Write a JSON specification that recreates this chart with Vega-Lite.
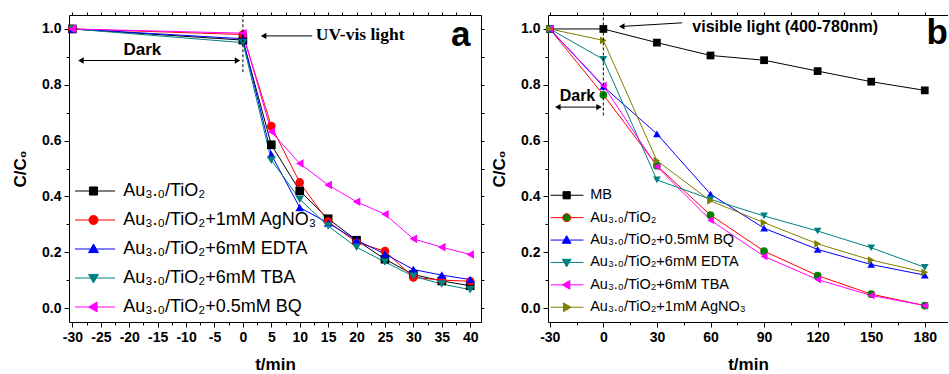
{
  "$schema": "https://vega.github.io/schema/vega-lite/v6.json",
  "background": "white",
  "padding": {"left": 11, "top": 11, "right": 0, "bottom": 0},
  "spacing": 67,
  "bounds": "flush",
  "config": {
    "view": {"stroke": null},
    "axis": {
      "domainColor": "black", "tickColor": "black", "labelColor": "black", "titleColor": "black",
      "labelFont": "Liberation Sans", "labelFontWeight": "bold", "labelFontSize": 14,
      "titleFont": "Liberation Sans", "titleFontWeight": "bold", "titleFontSize": 17,
      "grid": false, "tickWidth": 1, "domainWidth": 1, "labelPadding": 3,
      "labelFlush": false, "labelOverlap": false, "labelBound": false
    },
    "legend": {"labelFont": "Liberation Sans", "labelColor": "black", "padding": 0}
  },
  "datasets": {
    "a": [
      {"s": "Au₃.₀/TiO₂", "t": -30, "c": 1.0}, {"s": "Au₃.₀/TiO₂", "t": 0, "c": 0.96}, {"s": "Au₃.₀/TiO₂", "t": 5, "c": 0.585}, {"s": "Au₃.₀/TiO₂", "t": 10, "c": 0.42}, {"s": "Au₃.₀/TiO₂", "t": 15, "c": 0.32}, {"s": "Au₃.₀/TiO₂", "t": 20, "c": 0.243}, {"s": "Au₃.₀/TiO₂", "t": 25, "c": 0.175}, {"s": "Au₃.₀/TiO₂", "t": 30, "c": 0.12}, {"s": "Au₃.₀/TiO₂", "t": 35, "c": 0.097}, {"s": "Au₃.₀/TiO₂", "t": 40, "c": 0.08},
      {"s": "Au₃.₀/TiO₂+1mM AgNO₃", "t": -30, "c": 1.0}, {"s": "Au₃.₀/TiO₂+1mM AgNO₃", "t": 0, "c": 0.98}, {"s": "Au₃.₀/TiO₂+1mM AgNO₃", "t": 5, "c": 0.652}, {"s": "Au₃.₀/TiO₂+1mM AgNO₃", "t": 10, "c": 0.45}, {"s": "Au₃.₀/TiO₂+1mM AgNO₃", "t": 15, "c": 0.31}, {"s": "Au₃.₀/TiO₂+1mM AgNO₃", "t": 20, "c": 0.235}, {"s": "Au₃.₀/TiO₂+1mM AgNO₃", "t": 25, "c": 0.204}, {"s": "Au₃.₀/TiO₂+1mM AgNO₃", "t": 30, "c": 0.11}, {"s": "Au₃.₀/TiO₂+1mM AgNO₃", "t": 35, "c": 0.1}, {"s": "Au₃.₀/TiO₂+1mM AgNO₃", "t": 40, "c": 0.096},
      {"s": "Au₃.₀/TiO₂+6mM EDTA", "t": -30, "c": 1.0}, {"s": "Au₃.₀/TiO₂+6mM EDTA", "t": 0, "c": 0.965}, {"s": "Au₃.₀/TiO₂+6mM EDTA", "t": 5, "c": 0.55}, {"s": "Au₃.₀/TiO₂+6mM EDTA", "t": 10, "c": 0.36}, {"s": "Au₃.₀/TiO₂+6mM EDTA", "t": 15, "c": 0.305}, {"s": "Au₃.₀/TiO₂+6mM EDTA", "t": 20, "c": 0.243}, {"s": "Au₃.₀/TiO₂+6mM EDTA", "t": 25, "c": 0.194}, {"s": "Au₃.₀/TiO₂+6mM EDTA", "t": 30, "c": 0.138}, {"s": "Au₃.₀/TiO₂+6mM EDTA", "t": 35, "c": 0.118}, {"s": "Au₃.₀/TiO₂+6mM EDTA", "t": 40, "c": 0.102},
      {"s": "Au₃.₀/TiO₂+6mM TBA", "t": -30, "c": 1.0}, {"s": "Au₃.₀/TiO₂+6mM TBA", "t": 0, "c": 0.951}, {"s": "Au₃.₀/TiO₂+6mM TBA", "t": 5, "c": 0.53}, {"s": "Au₃.₀/TiO₂+6mM TBA", "t": 10, "c": 0.39}, {"s": "Au₃.₀/TiO₂+6mM TBA", "t": 15, "c": 0.294}, {"s": "Au₃.₀/TiO₂+6mM TBA", "t": 20, "c": 0.218}, {"s": "Au₃.₀/TiO₂+6mM TBA", "t": 25, "c": 0.165}, {"s": "Au₃.₀/TiO₂+6mM TBA", "t": 30, "c": 0.114}, {"s": "Au₃.₀/TiO₂+6mM TBA", "t": 35, "c": 0.086}, {"s": "Au₃.₀/TiO₂+6mM TBA", "t": 40, "c": 0.066},
      {"s": "Au₃.₀/TiO₂+0.5mM BQ", "t": -30, "c": 1.0}, {"s": "Au₃.₀/TiO₂+0.5mM BQ", "t": 0, "c": 0.985}, {"s": "Au₃.₀/TiO₂+0.5mM BQ", "t": 5, "c": 0.632}, {"s": "Au₃.₀/TiO₂+0.5mM BQ", "t": 10, "c": 0.518}, {"s": "Au₃.₀/TiO₂+0.5mM BQ", "t": 15, "c": 0.441}, {"s": "Au₃.₀/TiO₂+0.5mM BQ", "t": 20, "c": 0.381}, {"s": "Au₃.₀/TiO₂+0.5mM BQ", "t": 25, "c": 0.336}, {"s": "Au₃.₀/TiO₂+0.5mM BQ", "t": 30, "c": 0.248}, {"s": "Au₃.₀/TiO₂+0.5mM BQ", "t": 35, "c": 0.218}, {"s": "Au₃.₀/TiO₂+0.5mM BQ", "t": 40, "c": 0.192}
    ],
    "b": [
      {"s": "MB", "t": -30, "c": 1.0}, {"s": "MB", "t": 0, "c": 1.0}, {"s": "MB", "t": 30, "c": 0.951}, {"s": "MB", "t": 60, "c": 0.905}, {"s": "MB", "t": 90, "c": 0.888}, {"s": "MB", "t": 120, "c": 0.849}, {"s": "MB", "t": 150, "c": 0.811}, {"s": "MB", "t": 180, "c": 0.78},
      {"s": "Au₃.₀/TiO₂", "t": -30, "c": 1.0}, {"s": "Au₃.₀/TiO₂", "t": 0, "c": 0.764}, {"s": "Au₃.₀/TiO₂", "t": 30, "c": 0.51}, {"s": "Au₃.₀/TiO₂", "t": 60, "c": 0.333}, {"s": "Au₃.₀/TiO₂", "t": 90, "c": 0.204}, {"s": "Au₃.₀/TiO₂", "t": 120, "c": 0.116}, {"s": "Au₃.₀/TiO₂", "t": 150, "c": 0.05}, {"s": "Au₃.₀/TiO₂", "t": 180, "c": 0.009},
      {"s": "Au₃.₀/TiO₂+0.5mM BQ", "t": -30, "c": 1.0}, {"s": "Au₃.₀/TiO₂+0.5mM BQ", "t": 0, "c": 0.794}, {"s": "Au₃.₀/TiO₂+0.5mM BQ", "t": 30, "c": 0.624}, {"s": "Au₃.₀/TiO₂+0.5mM BQ", "t": 60, "c": 0.408}, {"s": "Au₃.₀/TiO₂+0.5mM BQ", "t": 90, "c": 0.286}, {"s": "Au₃.₀/TiO₂+0.5mM BQ", "t": 120, "c": 0.21}, {"s": "Au₃.₀/TiO₂+0.5mM BQ", "t": 150, "c": 0.156}, {"s": "Au₃.₀/TiO₂+0.5mM BQ", "t": 180, "c": 0.118},
      {"s": "Au₃.₀/TiO₂+6mM EDTA", "t": -30, "c": 1.0}, {"s": "Au₃.₀/TiO₂+6mM EDTA", "t": 0, "c": 0.891}, {"s": "Au₃.₀/TiO₂+6mM EDTA", "t": 30, "c": 0.459}, {"s": "Au₃.₀/TiO₂+6mM EDTA", "t": 60, "c": 0.39}, {"s": "Au₃.₀/TiO₂+6mM EDTA", "t": 90, "c": 0.33}, {"s": "Au₃.₀/TiO₂+6mM EDTA", "t": 120, "c": 0.276}, {"s": "Au₃.₀/TiO₂+6mM EDTA", "t": 150, "c": 0.216}, {"s": "Au₃.₀/TiO₂+6mM EDTA", "t": 180, "c": 0.146},
      {"s": "Au₃.₀/TiO₂+6mM TBA", "t": -30, "c": 1.0}, {"s": "Au₃.₀/TiO₂+6mM TBA", "t": 0, "c": 0.797}, {"s": "Au₃.₀/TiO₂+6mM TBA", "t": 30, "c": 0.507}, {"s": "Au₃.₀/TiO₂+6mM TBA", "t": 60, "c": 0.315}, {"s": "Au₃.₀/TiO₂+6mM TBA", "t": 90, "c": 0.185}, {"s": "Au₃.₀/TiO₂+6mM TBA", "t": 120, "c": 0.102}, {"s": "Au₃.₀/TiO₂+6mM TBA", "t": 150, "c": 0.045}, {"s": "Au₃.₀/TiO₂+6mM TBA", "t": 180, "c": 0.009},
      {"s": "Au₃.₀/TiO₂+1mM AgNO₃", "t": -30, "c": 1.0}, {"s": "Au₃.₀/TiO₂+1mM AgNO₃", "t": 0, "c": 0.959}, {"s": "Au₃.₀/TiO₂+1mM AgNO₃", "t": 30, "c": 0.528}, {"s": "Au₃.₀/TiO₂+1mM AgNO₃", "t": 60, "c": 0.384}, {"s": "Au₃.₀/TiO₂+1mM AgNO₃", "t": 90, "c": 0.306}, {"s": "Au₃.₀/TiO₂+1mM AgNO₃", "t": 120, "c": 0.23}, {"s": "Au₃.₀/TiO₂+1mM AgNO₃", "t": 150, "c": 0.172}, {"s": "Au₃.₀/TiO₂+1mM AgNO₃", "t": 180, "c": 0.128}
    ]
  },
  "resolve": {"scale": {"stroke": "independent", "fill": "independent", "shape": "independent"}},
  "hconcat": [
    {
      "width": 412,
      "height": 307,
      "resolve": {"axis": {"x": "independent", "y": "independent"}},
      "layer": [
        {
          "data": {"name": "a"},
          "mark": {"type": "line", "strokeWidth": 1},
          "encoding": {
            "x": {"field": "t", "type": "quantitative", "scale": {"domain": [-30.6, 41.9], "nice": false, "zero": false},
              "axis": {"orient": "bottom", "values": [-30,-25,-20,-15,-10,-5,0,5,10,15,20,25,30,35,40], "tickSize": 5, "labelExpr": "'' + datum.value", "title": "t/min", "titlePadding": 12}},
            "y": {"field": "c", "type": "quantitative", "scale": {"domain": [-0.05, 1.05], "nice": false, "zero": false},
              "axis": {"orient": "left", "values": [0, 0.2, 0.4, 0.6, 0.8, 1.0], "tickSize": 5, "labelExpr": "format(datum.value, '.1f')", "title": "C/C₀", "titlePadding": 12}},
            "stroke": {"field": "s", "type": "nominal",
              "scale": {"domain": ["Au₃.₀/TiO₂", "Au₃.₀/TiO₂+1mM AgNO₃", "Au₃.₀/TiO₂+6mM EDTA", "Au₃.₀/TiO₂+6mM TBA", "Au₃.₀/TiO₂+0.5mM BQ"], "range": ["#000000", "#ff0000", "#0000ff", "#008080", "#ff00ff"]},
              "legend": {"orient": "none", "legendX": 15.5, "legendY": 167, "title": null, "symbolSize": 81, "labelFontSize": 18, "labelOffset": 20.7, "rowPadding": 11, "labelLimit": 400,
                "encode": {"symbols": {"update": {
                  "shape": {"signal": "['M-4.1,0H-0.9M0.9,0H4.8M-0.9,-0.9H0.9V0.9H-0.9Z','M-4.1,0H-1M1,0H4.8M1,0A1,1,0,1,1,-1,0A1,1,0,1,1,1,0Z','M-4.1,0H-0.7M0.7,0H4.8M0,-1.1L1.1,0.8L-1.1,0.8Z','M-4.1,0H-0.7M0.7,0H4.8M0,1.1L1.1,-0.8L-1.1,-0.8Z','M-4.1,0H-1.1M0.8,0H4.8M-1.1,0L0.8,-1.1L0.8,1.1Z'][indexof(['Au₃.₀/TiO₂','Au₃.₀/TiO₂+1mM AgNO₃','Au₃.₀/TiO₂+6mM EDTA','Au₃.₀/TiO₂+6mM TBA','Au₃.₀/TiO₂+0.5mM BQ'], datum.value)]"},
                  "fill": {"signal": "['#000000','#ff0000','#0000ff','#008080','#ff00ff'][indexof(['Au₃.₀/TiO₂','Au₃.₀/TiO₂+1mM AgNO₃','Au₃.₀/TiO₂+6mM EDTA','Au₃.₀/TiO₂+6mM TBA','Au₃.₀/TiO₂+0.5mM BQ'], datum.value)]"},
                  "strokeWidth": {"value": 1},
                  "opacity": {"value": 1}
                }}}}}
          }
        },
        {
          "data": {"name": "a"},
          "mark": {"type": "point", "filled": true, "opacity": 1, "size": 75},
          "encoding": {
            "x": {"field": "t", "type": "quantitative", "scale": {"domain": [-30.6, 41.9], "nice": false, "zero": false},
              "axis": {"orient": "bottom", "values": [-27.5,-22.5,-17.5,-12.5,-7.5,-2.5,2.5,7.5,12.5,17.5,22.5,27.5,32.5,37.5], "tickSize": 3, "labels": false, "domain": false, "title": null}},
            "y": {"field": "c", "type": "quantitative", "scale": {"domain": [-0.05, 1.05], "nice": false, "zero": false},
              "axis": {"orient": "left", "values": [0.1, 0.3, 0.5, 0.7, 0.9], "tickSize": 3, "labels": false, "domain": false, "title": null}},
            "fill": {"field": "s", "type": "nominal", "legend": null,
              "scale": {"range": ["#000000", "#ff00ff", "#ff0000", "#0000ff", "#008080"]}},
            "shape": {"field": "s", "type": "nominal", "legend": null,
              "scale": {"range": ["square", "triangle-left", "circle", "triangle-up", "triangle-down"]}}
          }
        },
        {
          "data": {"values": [{"t": 0, "c": 0.845, "c2": 1.05}]},
          "mark": {"type": "rule", "strokeDash": [3, 2], "color": "black", "strokeWidth": 1},
          "encoding": {
            "x": {"field": "t", "type": "quantitative", "scale": {"domain": [-30.6, 41.9], "nice": false, "zero": false},
              "axis": {"orient": "top", "values": [-30,-27.5,-25,-22.5,-20,-17.5,-15,-12.5,-10,-7.5,-5,-2.5,0,2.5,5,7.5,10,12.5,15,17.5,20,22.5,25,27.5,30,32.5,35,37.5,40], "tickSize": 3, "labels": false, "title": null}},
            "y": {"field": "c", "type": "quantitative", "scale": {"domain": [-0.05, 1.05], "nice": false, "zero": false},
              "axis": {"orient": "right", "values": [0,0.1,0.2,0.3,0.4,0.5,0.6,0.7,0.8,0.9,1.0], "tickSize": 3, "labels": false, "title": null}},
            "y2": {"field": "c2"}
          }
        },
        {
          "data": {"values": [{"t": -28.5, "t2": -1, "c": 0.887}, {"t": 3.7, "t2": 12.2, "c": 0.975}]},
          "mark": {"type": "rule", "color": "black", "strokeWidth": 1},
          "encoding": {
            "x": {"field": "t", "type": "quantitative", "scale": {"domain": [-30.6, 41.9], "nice": false, "zero": false}, "axis": null},
            "x2": {"field": "t2"},
            "y": {"field": "c", "type": "quantitative", "scale": {"domain": [-0.05, 1.05], "nice": false, "zero": false}, "axis": null}
          }
        },
        {
          "data": {"values": [{"t": -28.5, "c": 0.887}, {"t": 3.65, "c": 0.975}]},
          "mark": {"type": "point", "shape": "triangle-left", "filled": true, "color": "black", "opacity": 1, "size": 40},
          "encoding": {
            "x": {"field": "t", "type": "quantitative", "scale": {"domain": [-30.6, 41.9], "nice": false, "zero": false}, "axis": null},
            "y": {"field": "c", "type": "quantitative", "scale": {"domain": [-0.05, 1.05], "nice": false, "zero": false}, "axis": null}
          }
        },
        {
          "data": {"values": [{"t": -0.95, "c": 0.887}]},
          "mark": {"type": "point", "shape": "triangle-right", "filled": true, "color": "black", "opacity": 1, "size": 40},
          "encoding": {
            "x": {"field": "t", "type": "quantitative", "scale": {"domain": [-30.6, 41.9], "nice": false, "zero": false}, "axis": null},
            "y": {"field": "c", "type": "quantitative", "scale": {"domain": [-0.05, 1.05], "nice": false, "zero": false}, "axis": null}
          }
        },
        {
          "data": {"values": [{"t": -17.7, "c": 0.923, "label": "Dark"}]},
          "mark": {"type": "text", "font": "Liberation Sans", "fontWeight": "bold", "fontSize": 17, "align": "center", "baseline": "middle", "color": "black"},
          "encoding": {
            "x": {"field": "t", "type": "quantitative", "scale": {"domain": [-30.6, 41.9], "nice": false, "zero": false}, "axis": null},
            "y": {"field": "c", "type": "quantitative", "scale": {"domain": [-0.05, 1.05], "nice": false, "zero": false}, "axis": null},
            "text": {"field": "label"}
          }
        },
        {
          "data": {"values": [{"t": 12.84, "c": 0.977, "label": "UV-vis light"}]},
          "mark": {"type": "text", "font": "Liberation Serif", "fontWeight": "bold", "fontSize": 17.5, "align": "left", "baseline": "middle", "color": "black"},
          "encoding": {
            "x": {"field": "t", "type": "quantitative", "scale": {"domain": [-30.6, 41.9], "nice": false, "zero": false}, "axis": null},
            "y": {"field": "c", "type": "quantitative", "scale": {"domain": [-0.05, 1.05], "nice": false, "zero": false}, "axis": null},
            "text": {"field": "label"}
          }
        },
        {
          "data": {"values": [{"t": 38.35, "c": 0.977, "label": "a"}]},
          "mark": {"type": "text", "font": "Liberation Sans", "fontWeight": "bold", "fontSize": 35, "align": "center", "baseline": "middle", "color": "black"},
          "encoding": {
            "x": {"field": "t", "type": "quantitative", "scale": {"domain": [-30.6, 41.9], "nice": false, "zero": false}, "axis": null},
            "y": {"field": "c", "type": "quantitative", "scale": {"domain": [-0.05, 1.05], "nice": false, "zero": false}, "axis": null},
            "text": {"field": "label"}
          }
        }
      ]
    },
    {
      "width": 400,
      "height": 307,
      "resolve": {"axis": {"x": "independent", "y": "independent"}},
      "layer": [
        {
          "data": {"name": "b"},
          "mark": {"type": "line", "strokeWidth": 1},
          "encoding": {
            "x": {"field": "t", "type": "quantitative", "scale": {"domain": [-31, 193], "nice": false, "zero": false},
              "axis": {"orient": "bottom", "values": [-30, 0, 30, 60, 90, 120, 150, 180], "tickSize": 5, "labelExpr": "'' + datum.value", "title": "t/min", "titlePadding": 12}},
            "y": {"field": "c", "type": "quantitative", "scale": {"domain": [-0.05, 1.05], "nice": false, "zero": false},
              "axis": {"orient": "left", "values": [0, 0.2, 0.4, 0.6, 0.8, 1.0], "tickSize": 5, "labelExpr": "format(datum.value, '.1f')", "title": "C/C₀", "titlePadding": 12}},
            "stroke": {"field": "s", "type": "nominal",
              "scale": {"domain": ["MB", "Au₃.₀/TiO₂", "Au₃.₀/TiO₂+0.5mM BQ", "Au₃.₀/TiO₂+6mM EDTA", "Au₃.₀/TiO₂+6mM TBA", "Au₃.₀/TiO₂+1mM AgNO₃"], "range": ["#000000", "#ff0000", "#0000ff", "#008080", "#ff00ff", "#808000"]},
              "legend": {"orient": "none", "legendX": 11.4, "legendY": 173, "title": null, "symbolSize": 64, "labelFontSize": 14.5, "labelOffset": 16.3, "rowPadding": 7.4, "labelLimit": 400,
                "encode": {"symbols": {"update": {
                  "shape": {"signal": "['M-4,0H-0.9M0.9,0H4.2M-0.9,-0.9H0.9V0.9H-0.9Z','M-4,0H-1M1,0H4.2M1,0A1,1,0,1,1,-1,0A1,1,0,1,1,1,0Z','M-4,0H-0.7M0.7,0H4.2M0,-1.1L1.1,0.8L-1.1,0.8Z','M-4,0H-0.7M0.7,0H4.2M0,1.1L1.1,-0.8L-1.1,-0.8Z','M-4,0H-1.1M0.8,0H4.2M-1.1,0L0.8,-1.1L0.8,1.1Z','M-4,0H-0.8M1.1,0H4.2M1.1,0L-0.8,-1.1L-0.8,1.1Z'][indexof(['MB','Au₃.₀/TiO₂','Au₃.₀/TiO₂+0.5mM BQ','Au₃.₀/TiO₂+6mM EDTA','Au₃.₀/TiO₂+6mM TBA','Au₃.₀/TiO₂+1mM AgNO₃'], datum.value)]"},
                  "fill": {"signal": "['#000000','#008000','#0000ff','#008080','#ff00ff','#808000'][indexof(['MB','Au₃.₀/TiO₂','Au₃.₀/TiO₂+0.5mM BQ','Au₃.₀/TiO₂+6mM EDTA','Au₃.₀/TiO₂+6mM TBA','Au₃.₀/TiO₂+1mM AgNO₃'], datum.value)]"},
                  "strokeWidth": {"value": 1},
                  "opacity": {"value": 1}
                }}}}}
          }
        },
        {
          "data": {"name": "b"},
          "mark": {"type": "point", "filled": true, "opacity": 1, "size": 60},
          "encoding": {
            "x": {"field": "t", "type": "quantitative", "scale": {"domain": [-31, 193], "nice": false, "zero": false},
              "axis": {"orient": "bottom", "values": [-15, 15, 45, 75, 105, 135, 165], "tickSize": 3, "labels": false, "domain": false, "title": null}},
            "y": {"field": "c", "type": "quantitative", "scale": {"domain": [-0.05, 1.05], "nice": false, "zero": false},
              "axis": {"orient": "left", "values": [0.1, 0.3, 0.5, 0.7, 0.9], "tickSize": 3, "labels": false, "domain": false, "title": null}},
            "fill": {"field": "s", "type": "nominal", "legend": null,
              "scale": {"range": ["#008000", "#0000ff", "#808000", "#008080", "#ff00ff", "#000000"]}},
            "shape": {"field": "s", "type": "nominal", "legend": null,
              "scale": {"range": ["circle", "triangle-up", "triangle-right", "triangle-down", "triangle-left", "square"]}}
          }
        },
        {
          "data": {"values": [{"t": 0, "c": 0.69, "c2": 1.05}]},
          "mark": {"type": "rule", "strokeDash": [3, 2], "color": "black", "strokeWidth": 1},
          "encoding": {
            "x": {"field": "t", "type": "quantitative", "scale": {"domain": [-31, 193], "nice": false, "zero": false},
              "axis": {"orient": "top", "values": [-30,-15,0,15,30,45,60,75,90,105,120,135,150,165,180], "tickSize": 3, "labels": false, "title": null}},
            "y": {"field": "c", "type": "quantitative", "scale": {"domain": [-0.05, 1.05], "nice": false, "zero": false}, "axis": null},
            "y2": {"field": "c2"}
          }
        },
        {
          "data": {"values": [{"t": -25.5, "t2": -2.4, "c": 0.72, "c2": 0.72}, {"t": 10.3, "t2": 44.1, "c": 1.009, "c2": 1.022}]},
          "mark": {"type": "rule", "color": "black", "strokeWidth": 1},
          "encoding": {
            "x": {"field": "t", "type": "quantitative", "scale": {"domain": [-31, 193], "nice": false, "zero": false}, "axis": null},
            "x2": {"field": "t2"},
            "y": {"field": "c", "type": "quantitative", "scale": {"domain": [-0.05, 1.05], "nice": false, "zero": false}, "axis": null},
            "y2": {"field": "c2"}
          }
        },
        {
          "data": {"values": [{"t": -25.5, "c": 0.72}, {"t": 10.3, "c": 1.009}]},
          "mark": {"type": "point", "shape": "triangle-left", "filled": true, "color": "black", "opacity": 1, "size": 40},
          "encoding": {
            "x": {"field": "t", "type": "quantitative", "scale": {"domain": [-31, 193], "nice": false, "zero": false}, "axis": null},
            "y": {"field": "c", "type": "quantitative", "scale": {"domain": [-0.05, 1.05], "nice": false, "zero": false}, "axis": null}
          }
        },
        {
          "data": {"values": [{"t": -2.4, "c": 0.72}]},
          "mark": {"type": "point", "shape": "triangle-right", "filled": true, "color": "black", "opacity": 1, "size": 40},
          "encoding": {
            "x": {"field": "t", "type": "quantitative", "scale": {"domain": [-31, 193], "nice": false, "zero": false}, "axis": null},
            "y": {"field": "c", "type": "quantitative", "scale": {"domain": [-0.05, 1.05], "nice": false, "zero": false}, "axis": null}
          }
        },
        {
          "data": {"values": [{"t": -14.5, "c": 0.758, "label": "Dark"}]},
          "mark": {"type": "text", "font": "Liberation Sans", "fontWeight": "bold", "fontSize": 16, "align": "center", "baseline": "middle", "color": "black"},
          "encoding": {
            "x": {"field": "t", "type": "quantitative", "scale": {"domain": [-31, 193], "nice": false, "zero": false}, "axis": null},
            "y": {"field": "c", "type": "quantitative", "scale": {"domain": [-0.05, 1.05], "nice": false, "zero": false}, "axis": null},
            "text": {"field": "label"}
          }
        },
        {
          "data": {"values": [{"t": 49.8, "c": 1.007, "label": "visible light (400-780nm)"}]},
          "mark": {"type": "text", "font": "Liberation Sans", "fontWeight": "bold", "fontSize": 16, "align": "left", "baseline": "middle", "color": "black"},
          "encoding": {
            "x": {"field": "t", "type": "quantitative", "scale": {"domain": [-31, 193], "nice": false, "zero": false}, "axis": null},
            "y": {"field": "c", "type": "quantitative", "scale": {"domain": [-0.05, 1.05], "nice": false, "zero": false}, "axis": null},
            "text": {"field": "label"}
          }
        },
        {
          "data": {"values": [{"t": 186.9, "c": 0.985, "label": "b"}]},
          "mark": {"type": "text", "font": "Liberation Sans", "fontWeight": "bold", "fontSize": 35, "align": "center", "baseline": "middle", "color": "black"},
          "encoding": {
            "x": {"field": "t", "type": "quantitative", "scale": {"domain": [-31, 193], "nice": false, "zero": false}, "axis": null},
            "y": {"field": "c", "type": "quantitative", "scale": {"domain": [-0.05, 1.05], "nice": false, "zero": false}, "axis": null},
            "text": {"field": "label"}
          }
        }
      ]
    }
  ]
}
